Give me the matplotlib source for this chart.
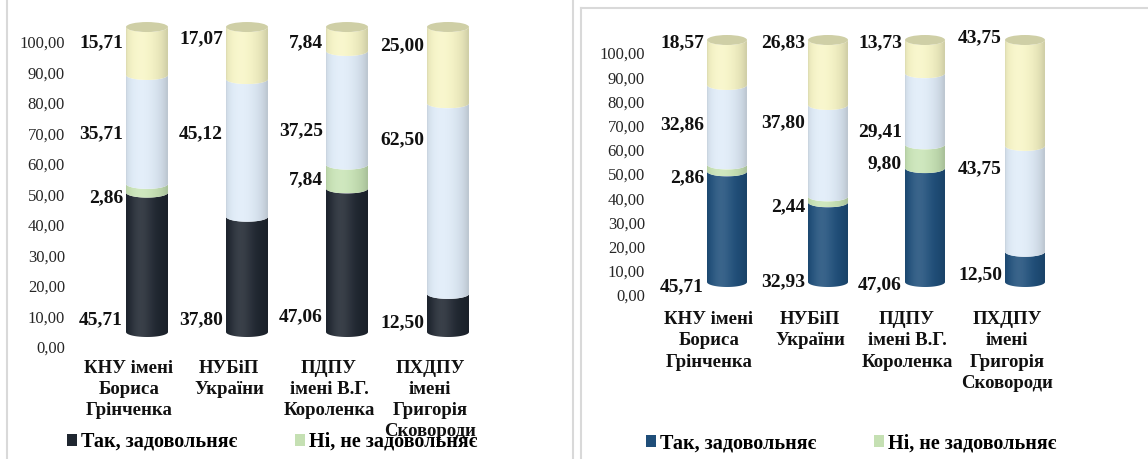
import numpy as np
import matplotlib
matplotlib.use("Agg")
import matplotlib.pyplot as plt
from matplotlib.patches import PathPatch, Ellipse, Patch
from matplotlib.path import Path
from matplotlib.lines import Line2D
import matplotlib.transforms as mtransforms

plt.rcParams['font.family'] = ['Liberation Serif', 'DejaVu Serif']
FAM = 'Liberation Serif'

# ---- data ----
categories = ["КНУ імені\nБориса\nГрінченка", "НУБіП\nУкраїни",
              "ПДПУ\nімені В.Г.\nКороленка", "ПХДПУ\nімені\nГригорія\nСковороди"]
series_names = ["Так, задовольняє", "Ні, не задовольняє"]

left_yes = [45.71, 37.80, 47.06, 12.50]
left_no = [2.86, 0.00, 7.84, 0.00]
left_mid = [35.71, 45.12, 37.25, 62.50]
left_top = [15.71, 17.07, 7.84, 25.00]

right_yes = [45.71, 32.93, 47.06, 12.50]
right_no = [2.86, 2.44, 9.80, 0.00]
right_mid = [32.86, 37.80, 29.41, 43.75]
right_top = [18.57, 26.83, 13.73, 43.75]

# where the data labels sit (value units), as placed in the original
left_label_y = [[4, 4, 5, 3], [44, None, 50, None], [65, 65, 66, 63], [95, 96, 95, 94]]
right_label_y = [[-2, 0, -1, 3], [43, 31, 49, None], [65, 66, 62, 47], [99, 99, 99, 101]]

W, H = 1148, 459
DPI = 100

c_dark_left = "#1f2630"
c_dark_right = "#1f4e79"
c_green = "#c5e0b3"
c_blue = "#dce8f4"
c_yellow = "#f3f1c3"
c_cap = "#cfcfa6"


def shade_strip(color, n=64):
    rgb = np.array(matplotlib.colors.to_rgb(color))
    u = np.linspace(-1, 1, n)
    nz = np.sqrt(np.clip(1 - u ** 2, 0, 1))
    # soft light from the front-left, darker rims
    inten = np.clip(-0.3 * u + 0.95 * nz, 0, 1)
    k = 0.86 + 0.16 * inten
    out = np.clip(rgb[None, :] * k[:, None], 0, 1)
    out = out + (1 - out) * (0.12 * inten ** 6)[:, None]
    return out[None, :, :]


def segment_path(xc, a, y0, y1, b):
    t1 = np.linspace(np.pi, 2 * np.pi, 40)
    t0 = t1[::-1]
    xs = np.concatenate([xc + a * np.cos(t1), xc + a * np.cos(t0)])
    ys = np.concatenate([y1 + b * np.sin(t1), y0 + b * np.sin(t0)])
    verts = np.column_stack([xs, ys])
    verts = np.vstack([verts, verts[0]])
    codes = [Path.MOVETO] + [Path.LINETO] * (len(verts) - 2) + [Path.CLOSEPOLY]
    return Path(verts, codes)


def draw_panel(ax, rect_px, centers_px, zero_px, px_per_unit, bar_w_px,
               yes, no, mid, top, label_y, dark, tick_shift_px, xpad_px, linesp):
    left, top_px, right, bottom = rect_px
    ax.set_position([left / W, 1 - bottom / H, (right - left) / W, (bottom - top_px) / H])
    step = (centers_px[-1] - centers_px[0]) / (len(centers_px) - 1)
    x0 = centers_px[0]
    xlim = ((left - x0) / step, (right - x0) / step)
    ylim = ((zero_px - bottom) / px_per_unit, (zero_px - top_px) / px_per_unit)
    xs = [(c - x0) / step for c in centers_px]
    a = bar_w_px / step / 2
    b = 5.0 / px_per_unit

    series = [yes, no, mid, top]
    colors = [dark, c_green, c_blue, c_yellow]
    for i, xc in enumerate(xs):
        base = 0.0
        for s, col in zip(series, colors):
            h = s[i]
            if h <= 0:
                continue
            p = PathPatch(segment_path(xc, a, base, base + h, b), facecolor="none",
                          edgecolor="none")
            ax.add_patch(p)
            im = ax.imshow(shade_strip(col), extent=[xc - a, xc + a, base - b, base + h],
                           aspect="auto", origin="lower", zorder=2, interpolation="bilinear")
            im.set_clip_path(p)
            base += h
        cap = Ellipse((xc, base), 2 * a, 2 * b, facecolor=c_cap, edgecolor="none", zorder=3)
        ax.add_patch(cap)

    # data labels left of each cylinder
    off = mtransforms.ScaledTranslation(-3 / DPI, 0, ax.figure.dpi_scale_trans)
    for si, s in enumerate(series):
        for i, xc in enumerate(xs):
            ly = label_y[si][i]
            if ly is None:
                continue
            ax.text(xc - a, ly, f"{s[i]:.2f}".replace(".", ","), ha="right", va="center",
                    fontsize=14, fontweight="bold", color="#111111", family=FAM,
                    transform=ax.transData + off, zorder=5)

    ax.set_xlim(*xlim)
    ax.set_ylim(*ylim)
    for sp in ax.spines.values():
        sp.set_visible(False)
    ax.set_yticks(np.arange(0, 101, 10))
    ax.set_yticklabels([f"{v:.2f}".replace(".", ",") for v in np.arange(0, 101, 10)],
                       family=FAM)
    ax.tick_params(axis="y", length=0, pad=5 * 72 / DPI, labelsize=12, labelcolor="#262626")
    shift = mtransforms.ScaledTranslation(0, -tick_shift_px / DPI, ax.figure.dpi_scale_trans)
    for lab in ax.get_yticklabels():
        lab.set_transform(lab.get_transform() + shift)
    ax.set_xticks(xs)
    ax.set_xticklabels(categories, fontsize=13.5, fontweight="bold", linespacing=linesp,
                       color="#111111", family=FAM)
    ax.tick_params(axis="x", length=0, pad=xpad_px * 72 / DPI)
    # 3D depth: category labels sit a bit to the left of the cylinders
    xshift = mtransforms.ScaledTranslation(-18 / DPI, 0, ax.figure.dpi_scale_trans)
    for lab in ax.get_xticklabels():
        lab.set_transform(lab.get_transform() + xshift)
    ax.patch.set_visible(False)


fig = plt.figure(figsize=(W / DPI, H / DPI), dpi=DPI)
ax1 = fig.add_axes([0, 0, 1, 1])
ax2 = fig.add_axes([0, 0, 1, 1])

draw_panel(ax1, (70, 15, 540, 345), [147, 247, 347, 448], 332, 3.05, 42,
           left_yes, left_no, left_mid, left_top, left_label_y, c_dark_left, 15, 15, 1.3)
draw_panel(ax2, (650, 15, 1140, 300), [727, 828, 925, 1025], 282, 2.42, 40,
           right_yes, right_no, right_mid, right_top, right_label_y, c_dark_right, 13, 11, 1.33)

# legends (only the first two entries are visible in the original)
for ax, dark, anchor_px in [(ax1, c_dark_left, (67, 442)), (ax2, c_dark_right, (646, 443))]:
    handles = [Patch(facecolor=dark), Patch(facecolor=c_green)]
    ax.legend(handles, series_names, loc="center left", ncol=2, frameon=False,
              bbox_to_anchor=(anchor_px[0] / W, 1 - anchor_px[1] / H),
              bbox_transform=fig.transFigure,
              prop={"size": 14.5, "weight": "bold", "family": FAM},
              handlelength=0.5, handleheight=0.5,
              handletextpad=0.2, columnspacing=2.85, borderaxespad=0, borderpad=0)

# panel borders
bc = "#d9d9d9"
fig.add_artist(Line2D([6.5 / W, 6.5 / W], [0, 1], color=bc, lw=1.5))
fig.add_artist(Line2D([573 / W, 573 / W], [0, 1], color=bc, lw=1.5))
fig.add_artist(Line2D([581 / W, 581 / W], [0, 1 - 8 / H], color=bc, lw=1.5))
fig.add_artist(Line2D([581 / W, 1], [1 - 8 / H, 1 - 8 / H], color=bc, lw=1.5))

fig.savefig("out.png", dpi=DPI)
